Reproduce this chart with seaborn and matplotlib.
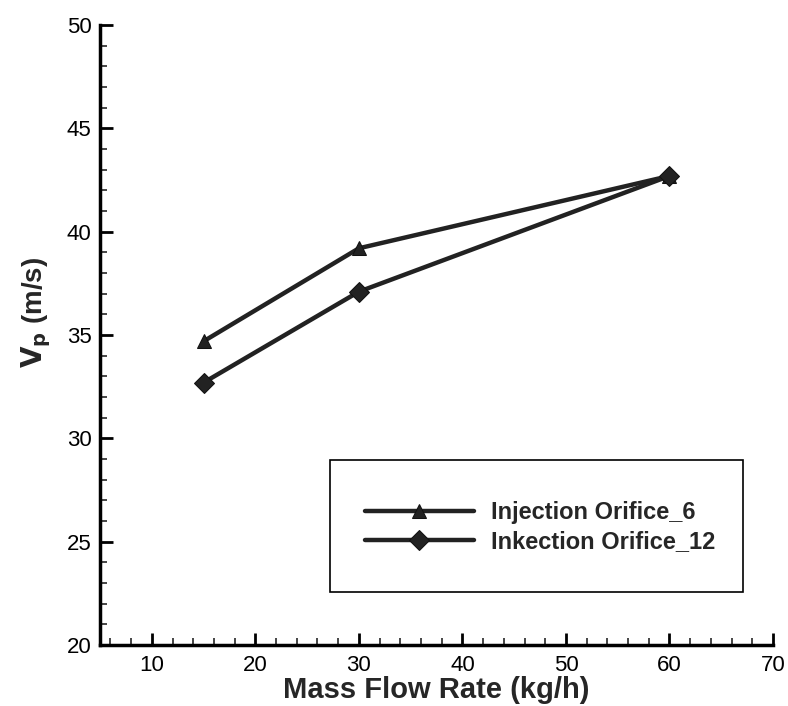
import matplotlib.pyplot as plt
import pandas as pd
import seaborn as sns
from matplotlib.patches import Rectangle
from matplotlib.ticker import MultipleLocator

# data
mass_flow = [15, 30, 60]
vp_orifice_6 = [34.7, 39.2, 42.7]
vp_orifice_12 = [32.7, 37.1, 42.7]
series_names = ["Injection Orifice_6", "Inkection Orifice_12"]

df = pd.concat(
    [
        pd.DataFrame({"flow": mass_flow, "vp": vp_orifice_6, "series": series_names[0]}),
        pd.DataFrame({"flow": mass_flow, "vp": vp_orifice_12, "series": series_names[1]}),
    ],
    ignore_index=True,
)

sns.set_style("ticks")
plt.rcParams["font.family"] = ["Liberation Sans", "DejaVu Sans"]

fig = plt.figure(figsize=(7.88, 7.06), dpi=100)
ax = fig.add_axes([0.127, 0.0864, 0.854, 0.878])

sns.lineplot(
    data=df,
    x="flow",
    y="vp",
    hue="series",
    style="series",
    markers={series_names[0]: "^", series_names[1]: "D"},
    dashes=False,
    palette={series_names[0]: "#222222", series_names[1]: "#222222"},
    linewidth=3.2,
    markersize=10,
    markeredgecolor="#111111",
    ax=ax,
)

ax.set_xlim(5, 70)
ax.set_ylim(20, 50)
ax.xaxis.set_major_locator(MultipleLocator(10))
ax.xaxis.set_minor_locator(MultipleLocator(2))
ax.yaxis.set_major_locator(MultipleLocator(5))
ax.yaxis.set_minor_locator(MultipleLocator(1))
ax.tick_params(which="major", direction="in", length=9, width=2, labelsize=16, colors="black")
ax.tick_params(which="minor", direction="in", length=5, width=1.2)
ax.tick_params(axis="x", pad=7)
ax.tick_params(axis="y", pad=6)

for side in ["top", "right"]:
    ax.spines[side].set_visible(False)
for side in ["left", "bottom"]:
    ax.spines[side].set_linewidth(2.5)
    ax.spines[side].set_color("black")

ax.set_xlabel("Mass Flow Rate (kg/h)", fontsize=21, fontweight="bold", labelpad=0)
ax.set_ylabel(r"$\mathbf{V_p}$ (m/s)", fontsize=20, fontweight="bold")
ax.yaxis.set_label_coords(-0.07, 0.537)

# legend box
ax.add_patch(
    Rectangle(
        (0.342, 0.085), 0.613, 0.213,
        transform=ax.transAxes, fill=False, edgecolor="black", linewidth=1.2, zorder=3,
    )
)
handles, labels = ax.get_legend_handles_labels()
leg = ax.legend(
    handles,
    labels,
    loc="center left",
    bbox_to_anchor=(0.362, 0.19),
    frameon=False,
    handlelength=4.6,
    handletextpad=0.75,
    labelspacing=0.25,
    prop={"size": 17, "weight": "bold"},
    title=None,
)

fig.savefig("out.png", dpi=100)
plt.close(fig)
